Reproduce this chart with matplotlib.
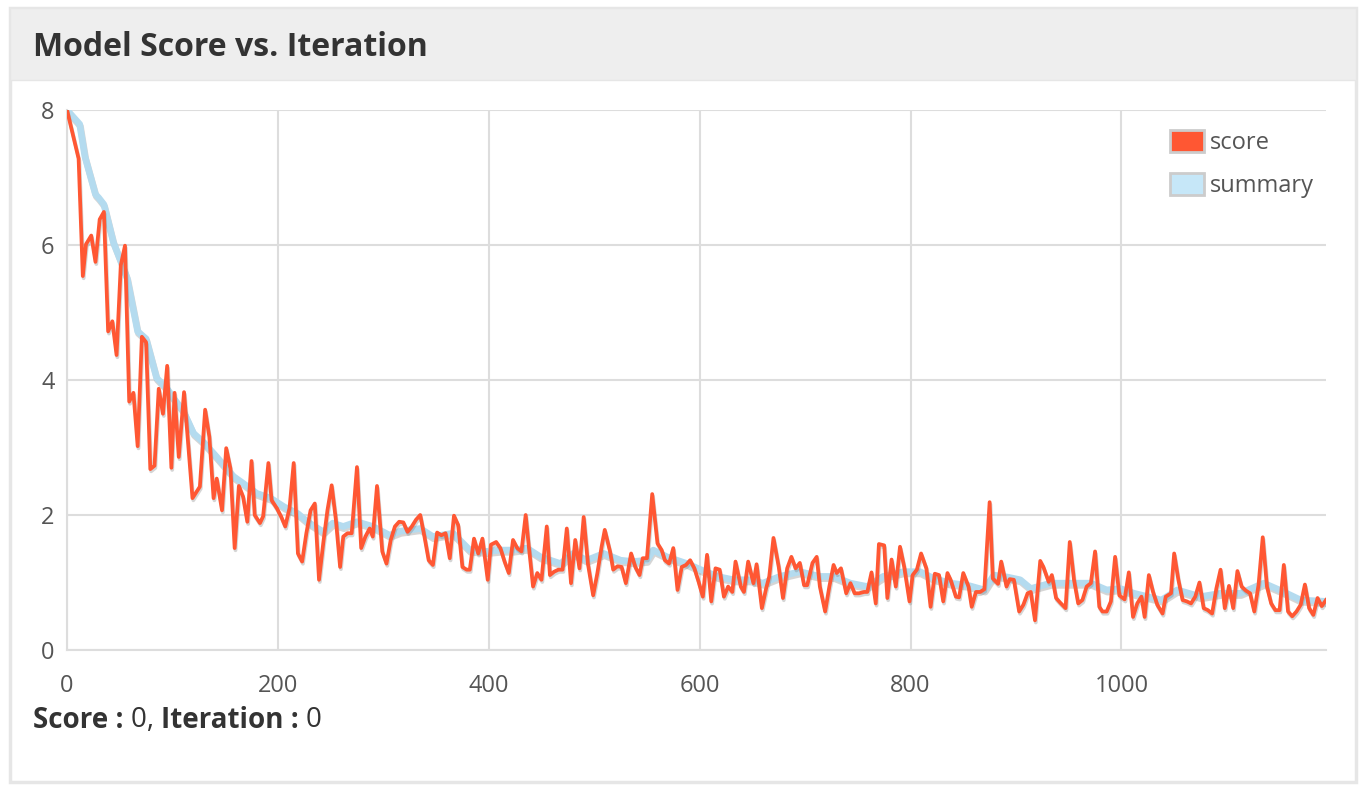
import matplotlib
matplotlib.use("Agg")
import matplotlib.pyplot as plt
import matplotlib.patheffects as pe
from matplotlib.patches import Patch, Rectangle

plt.rcParams['font.family'] = ['Open Sans', 'DejaVu Sans']

# score samples
iterations = [0, 11, 15, 18, 23, 27, 31, 35, 39, 43, 47, 51, 55, 59, 63, 67, 71, 75, 79, 83,
              87, 91, 95, 99, 102, 106, 111, 119, 126, 131, 135, 139, 142, 147, 151, 155, 159,
              163, 167, 171, 175, 178, 183, 186, 191, 194, 199, 203, 207, 211, 215, 219, 223,
              227, 231, 235, 239, 243, 247, 251, 255, 259, 262, 266, 270, 275, 279, 283, 287,
              290, 294, 299, 303, 307, 311, 315, 319, 323, 327, 331, 335, 339, 343, 347, 351,
              355, 359, 363, 367, 371, 375, 379, 382, 386, 390, 394, 399, 402, 407, 411, 415,
              419, 423, 427, 431, 435, 438, 442, 446, 450, 455, 458, 462, 466, 470, 474, 478,
              482, 486, 490, 494, 499, 503, 507, 510, 515, 518, 522, 526, 530, 535, 539, 543,
              546, 550, 555, 560, 564, 567, 571, 575, 579, 583, 587, 591, 595, 599, 603, 607,
              611, 615, 619, 623, 627, 631, 634, 639, 642, 646, 651, 654, 659, 663, 666, 670,
              675, 679, 683, 687, 691, 695, 699, 702, 707, 711, 714, 719, 723, 727, 730, 734,
              739, 743, 747, 751, 756, 759, 763, 767, 770, 775, 778, 782, 786, 790, 794, 799,
              802, 806, 810, 815, 819, 823, 827, 831, 835, 838, 843, 846, 850, 855, 858, 862,
              866, 870, 875, 878, 883, 886, 891, 894, 898, 903, 907, 911, 914, 918, 923, 926,
              931, 934, 938, 942, 947, 951, 955, 959, 963, 967, 971, 975, 979, 982, 986, 990,
              994, 998, 1003, 1007, 1011, 1015, 1019, 1022, 1026, 1030, 1034, 1039, 1042, 1047,
              1050, 1054, 1058, 1062, 1066, 1070, 1074, 1078, 1082, 1086, 1090, 1094, 1098, 1102,
              1106, 1110, 1114, 1118, 1122, 1126, 1130, 1134, 1138, 1142, 1146, 1150, 1154, 1158,
              1162, 1166, 1170, 1174, 1178, 1182, 1186, 1190, 1194]
score = [8.0, 7.28, 5.54, 6.01, 6.14, 5.75, 6.38, 6.49, 4.72, 4.87, 4.37, 5.7, 5.99, 3.68, 3.81,
         3.02, 4.64, 4.56, 2.68, 2.73, 3.87, 3.5, 4.21, 2.7, 3.81, 2.86, 3.82, 2.25, 2.42, 3.56,
         3.16, 2.25, 2.54, 2.07, 2.99, 2.69, 1.51, 2.43, 2.27, 1.90, 2.80, 2.0, 1.88, 1.98, 2.77,
         2.22, 2.1, 1.98, 1.83, 2.1, 2.77, 1.43, 1.31, 1.73, 2.07, 2.17, 1.04, 1.58, 2.07, 2.44,
         1.93, 1.23, 1.68, 1.73, 1.73, 2.71, 1.51, 1.68, 1.80, 1.68, 2.43, 1.46, 1.28, 1.63, 1.83,
         1.90, 1.89, 1.75, 1.83, 1.93, 2.0, 1.68, 1.33, 1.26, 1.74, 1.70, 1.73, 1.36, 1.99, 1.85,
         1.23, 1.19, 1.19, 1.65, 1.43, 1.65, 1.04, 1.56, 1.60, 1.51, 1.31, 1.14, 1.63, 1.51, 1.46,
         2.0, 1.53, 0.94, 1.14, 1.04, 1.83, 1.11, 1.16, 1.19, 1.19, 1.80, 0.99, 1.63, 1.21, 1.97,
         1.28, 0.81, 1.14, 1.53, 1.78, 1.46, 1.19, 1.24, 1.23, 0.99, 1.43, 1.23, 1.11, 1.36, 1.36,
         2.31, 1.58, 1.48, 1.33, 1.28, 1.51, 0.89, 1.23, 1.26, 1.33, 1.21, 1.01, 0.79, 1.41, 0.72,
         1.21, 1.19, 0.79, 0.94, 0.86, 1.31, 0.94, 0.86, 1.31, 0.99, 1.27, 0.62, 0.91, 1.09, 1.66,
         1.23, 0.77, 1.21, 1.38, 1.21, 1.29, 0.96, 0.96, 1.29, 1.38, 0.94, 0.57, 0.94, 1.26, 1.14,
         1.21, 0.84, 0.99, 0.84, 0.84, 0.86, 0.86, 1.15, 0.69, 1.57, 1.55, 0.77, 1.34, 0.94, 1.53,
         1.23, 0.72, 1.11, 1.19, 1.43, 1.21, 0.64, 1.13, 1.11, 0.72, 1.14, 1.04, 0.79, 0.78, 1.14,
         0.94, 0.64, 0.86, 0.86, 0.90, 2.19, 1.06, 0.98, 1.31, 0.94, 1.05, 1.04, 0.57, 0.67, 0.84,
         0.86, 0.44, 1.32, 1.23, 1.01, 1.11, 0.77, 0.70, 0.62, 1.60, 1.04, 0.69, 0.74, 0.94, 0.99,
         1.46, 0.64, 0.57, 0.57, 0.72, 1.38, 0.81, 0.75, 1.15, 0.49, 0.69, 0.79, 0.49, 1.11, 0.86,
         0.67, 0.54, 0.79, 0.84, 1.43, 1.04, 0.74, 0.72, 0.69, 0.79, 1.0, 0.62, 0.59, 0.54, 0.91,
         1.19, 0.62, 0.95, 0.62, 1.17, 0.94, 0.88, 0.84, 0.57, 0.96, 1.67, 0.94, 0.69, 0.59, 0.59,
         1.26, 0.57, 0.50, 0.57, 0.67, 0.97, 0.62, 0.52, 0.77, 0.65, 0.74]

# smoothed summary curve
summary_iter = [0, 12, 17, 27, 30, 35, 44, 52, 57, 67, 75, 85, 95, 102, 110, 120, 130, 142, 158,
                167, 180, 193, 206, 219, 228, 243, 252, 262, 275, 290, 306, 316, 335, 347, 366,
                382, 398, 411, 423, 436, 449, 468, 480, 493, 509, 525, 537, 550, 556, 569, 588,
                601, 617, 632, 648, 660, 676, 695, 714, 727, 743, 759, 774, 793, 809, 822, 838,
                854, 870, 879, 892, 904, 914, 933, 949, 971, 986, 999, 1012, 1038, 1053, 1075,
                1094, 1113, 1135, 1154, 1170, 1194]
summary = [8.0, 7.79, 7.31, 6.75, 6.70, 6.6, 6.04, 5.72, 5.51, 4.72, 4.61, 4.03, 3.87, 3.71, 3.55,
           3.21, 3.07, 2.86, 2.57, 2.47, 2.32, 2.25, 2.12, 2.02, 1.90, 1.75, 1.88, 1.83, 1.90, 1.83,
           1.70, 1.76, 1.80, 1.68, 1.73, 1.48, 1.46, 1.48, 1.48, 1.51, 1.38, 1.28, 1.43, 1.33, 1.43,
           1.33, 1.31, 1.33, 1.48, 1.38, 1.28, 1.19, 1.09, 1.04, 1.04, 0.99, 1.09, 1.16, 1.09, 1.09,
           0.99, 0.94, 1.09, 1.16, 1.16, 1.06, 0.99, 0.96, 0.89, 1.11, 1.08, 1.04, 0.91, 0.99, 0.99,
           0.99, 0.89, 0.91, 0.84, 0.74, 0.89, 0.79, 0.84, 0.84, 0.99, 0.86, 0.74, 0.72]

yticks = [0, 2, 4, 6, 8]
xticks = [0, 200, 400, 600, 800, 1000]

W, H = 1366, 794
fig = plt.figure(figsize=(W / 100, H / 100), dpi=100)
fig.patch.set_facecolor('white')

# card frame and header band
fig.patches.append(Rectangle((10 / W, 1 - 782 / H), 1346 / W, 774 / H, transform=fig.transFigure,
                             facecolor='white', edgecolor='#e6e6e6', lw=2.5, zorder=-10))
fig.patches.append(Rectangle((10 / W, 1 - 80 / H), 1346 / W, 72 / H, transform=fig.transFigure,
                             facecolor='#eeeeee', edgecolor='#e6e6e6', lw=1, zorder=-9))
fig.text(33 / W, 1 - 48 / H, "Model Score vs. Iteration", fontsize=23, fontweight='bold',
         color='#333333', va='center', ha='left')

ax = fig.add_axes([67 / W, 1 - 650 / H, (1326 - 67) / W, 540 / H])
ax.set_zorder(1)
ax.set_facecolor('white')

shadow = [pe.SimpleLineShadow(offset=(0.6, -1.6), shadow_color='#777777', alpha=0.3), pe.Normal()]
ax.plot(summary_iter, summary, color='#b4dbef', lw=4.8, solid_joinstyle='round',
        path_effects=shadow, zorder=3)
ax.plot(iterations, score, color='#ff5733', lw=2.7, solid_joinstyle='round',
        path_effects=shadow, zorder=4)

ax.set_xlim(0, iterations[-1])
ax.set_ylim(0, 8)
ax.set_xticks(xticks)
ax.set_yticks(yticks)
ax.grid(True, color='#dddddd', lw=1.5)
ax.set_axisbelow(True)
for s in ['top', 'right']:
    ax.spines[s].set_visible(False)
for s in ['left', 'bottom']:
    ax.spines[s].set_color('#dddddd')
    ax.spines[s].set_linewidth(1.5)
ax.tick_params(length=0, labelsize=17, labelcolor='#555555')
ax.tick_params(axis='y', pad=9)
ax.tick_params(axis='x', pad=17)

handles = [Patch(facecolor='#ff5733', edgecolor='#cccccc', lw=2, label='score'),
           Patch(facecolor='#c6e7f8', edgecolor='#cccccc', lw=2, label='summary')]
leg = ax.legend(handles=handles, loc='upper right', bbox_to_anchor=(0.998, 0.981), frameon=False,
                fontsize=17, handlelength=1.44, handleheight=1.1, handletextpad=0.25,
                labelspacing=0.75, borderaxespad=0)
for t in leg.get_texts():
    t.set_color('#555555')

# footer readout, bold labels with plain values
fig.canvas.draw()
r = fig.canvas.get_renderer()
x = 33 / W
y = 1 - 720 / H
for txt, wt in [("Score : ", 'bold'), ("0, ", 'normal'), ("Iteration : ", 'bold'), ("0", 'normal')]:
    t = fig.text(x, y, txt, fontsize=20, fontweight=wt, color='#333333', va='center', ha='left')
    bb = t.get_window_extent(renderer=r)
    x += bb.width / W

fig.savefig("out.png", dpi=100)
